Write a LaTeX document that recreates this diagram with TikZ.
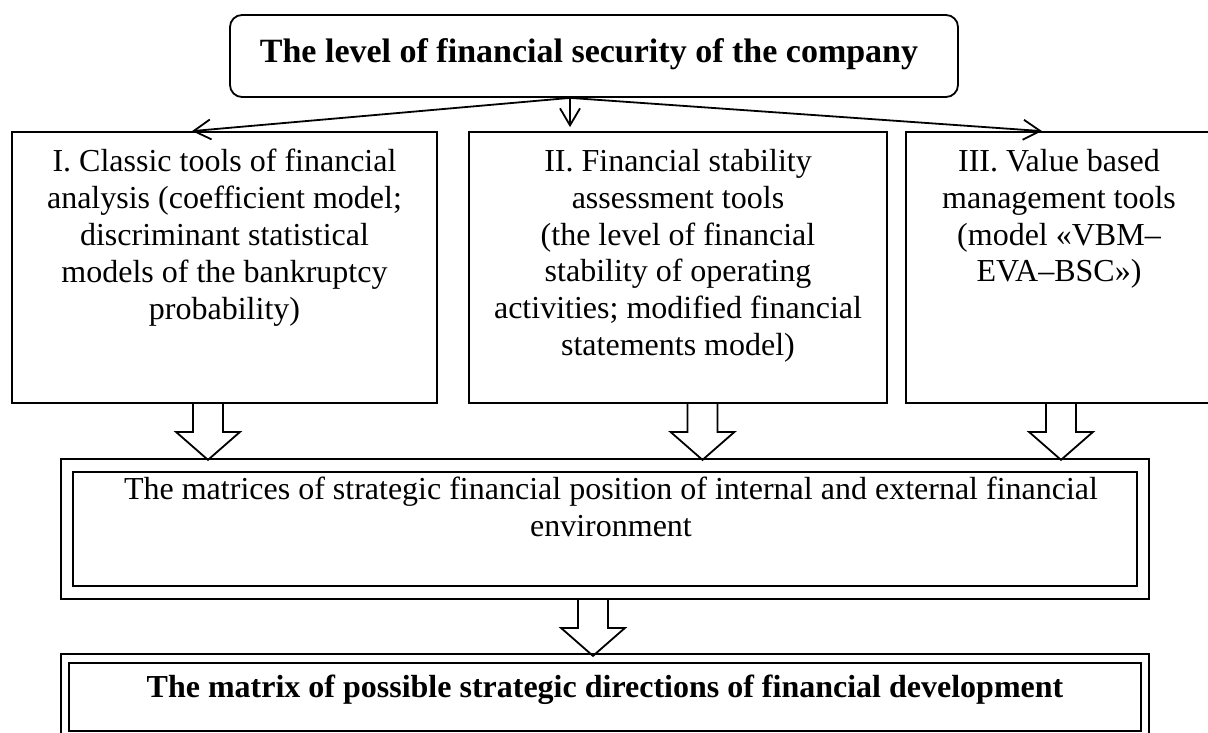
\documentclass[tikz,border=0pt]{standalone}
\usepackage{fontspec}
\setmainfont{Liberation Serif}
\usetikzlibrary{arrows.meta,calc}
\tikzset{
  boxline/.style={draw, line width=1.8pt},
  box/.style={boxline, rectangle, inner sep=0pt},
  txt/.style={inner sep=0pt, align=center, font=\fontsize{32}{36.8}\selectfont},
  btxt/.style={inner sep=0pt, align=center, font=\fontsize{32}{36.8}\selectfont\bfseries},
  thinarrow/.style={line width=1.8pt, -{Straight Barb[length=17pt,width=20pt,line width=1.8pt]}},
  hollowdown/.pic={
    \draw[line width=1.8pt, line join=miter] (-15,0) -- (-15,28) -- (-32,28) -- (0,56) -- (32,28) -- (15,28) -- (15,0);
  }
}
\begin{document}
\begin{tikzpicture}[x=1pt,y=-1pt]
\useasboundingbox (0,0) rectangle (1208,733);

% top box
\node[box, rounded corners=12pt, minimum width=728pt, minimum height=82pt] (top) at (594,56) {};
\node[btxt, anchor=base, font=\fontsize{34}{38}\selectfont\bfseries] (toptxt) at (589,63) {The level of financial security of the company};

% three tool boxes
\node[box, minimum width=425pt, minimum height=271pt] (b1) at (224.5,267.5) {};
\node[box, minimum width=418pt, minimum height=271pt] (b2) at (678,267.5) {};
\node[box, minimum width=306pt, minimum height=271pt] (b3) at (1059,267.5) {};

\node[txt, anchor=north] (t1) at ($(b1.north)+(0,18)$) {I. Classic tools of financial\\analysis (coefficient model;\\discriminant statistical\\models of the bankruptcy\\probability)};
\node[txt, anchor=north] (t2) at ($(b2.north)+(0,18)$) {II. Financial stability\\assessment tools\\(the level of financial\\stability of operating\\activities; modified financial\\statements model)};
\node[txt, anchor=north] (t3) at ($(b3.north)+(0,18)$) {III. Value based\\management tools\\(model «VBM–\\EVA–BSC»)};

% thin arrows
\coordinate (src) at ($(top.south)+(-24,0)$);
\draw[thinarrow] (src) -- ([xshift=-32.5pt]b1.north);
\draw[thinarrow] (src) -- ([xshift=-108pt,yshift=4pt]b2.north);
\draw[thinarrow] (src) -- ([xshift=-17pt]b3.north);

% middle double box
\node[box, minimum width=1088pt, minimum height=140pt] (mid) at (605,529) {};
\draw[boxline] (73,472) rectangle (1137,586);
\node[txt, anchor=north] (midtxt) at (611,477) {The matrices of strategic financial position of internal and external financial\\environment};

% bottom double box
\node[box, minimum width=1088pt, minimum height=86pt] (bot) at (605,697) {};
\draw[boxline] (69,663) rectangle (1141,731);
\node[btxt, anchor=base] (bottxt) at (605,697) {The matrix of possible strategic directions of financial development};

% hollow arrows
\pic at ([xshift=-16.5pt]b1.south) {hollowdown};
\pic at ([xshift=24.5pt]b2.south) {hollowdown};
\pic at ([xshift=2pt]b3.south) {hollowdown};
\pic at ([xshift=-12pt]mid.south) {hollowdown};
\end{tikzpicture}
\end{document}
